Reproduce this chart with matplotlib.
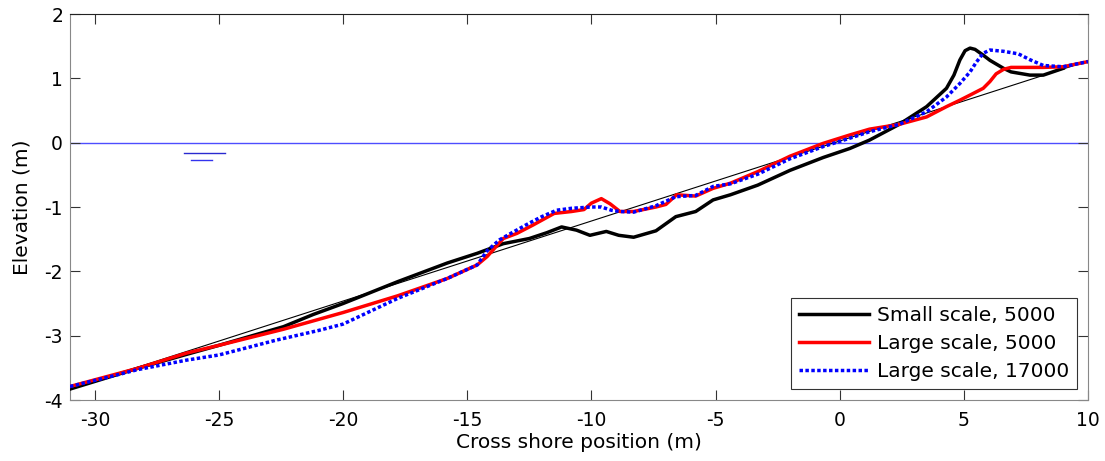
import matplotlib
matplotlib.use("Agg")
import matplotlib.pyplot as plt

plt.rcParams['font.family'] = ['DejaVu Sans']
plt.rcParams['axes.unicode_minus'] = False

# Initial (plane) profile
init_x = [-31, 10]
init_y = [-3.83, 1.27]

# Small scale, 5000
small_x = [-31, -28.3, -26.3, -25.0, -22.4, -21.2, -20.0, -17.8, -15.8, -14.6, -13.55, -12.5,
           -11.8, -11.2, -10.6, -10.06, -9.4, -8.9, -8.3, -7.4, -6.6, -5.8, -5.1, -4.4, -3.3,
           -2.0, -0.66, 0.41, 1.2, 2.4, 3.5, 4.3, 4.6, 4.84, 5.05, 5.25, 5.45, 5.78, 6.05, 6.6,
           6.9, 7.66, 8.2, 9.0]
small_y = [-3.83, -3.51, -3.29, -3.15, -2.86, -2.67, -2.50, -2.16, -1.87, -1.72, -1.57, -1.49,
           -1.40, -1.31, -1.36, -1.44, -1.38, -1.44, -1.47, -1.37, -1.15, -1.07, -0.89, -0.81, -0.66,
           -0.43, -0.23, -0.09, 0.04, 0.285, 0.56, 0.845, 1.05, 1.285, 1.43, 1.47, 1.45, 1.36, 1.28, 1.155,
           1.10, 1.05, 1.05, 1.155]

# Large scale, 5000
large5_x = [-31, -28.3, -26.3, -25.0, -22.4, -20.0, -17.8, -15.8, -14.6, -14.2, -13.55, -13.0,
            -12.35, -11.5, -10.8, -10.3, -10.0, -9.6, -9.25, -8.85, -8.3, -7.4, -7.0, -6.57, -5.8,
            -5.1, -4.4, -3.3, -2.0, -0.66, 0.41, 1.2, 2.4, 3.5, 4.3, 4.84, 5.25, 5.78, 6.05, 6.3,
            6.6, 6.9, 7.66, 8.2, 9.0, 10]
large5_y = [-3.79, -3.51, -3.27, -3.15, -2.90, -2.64, -2.38, -2.11, -1.90, -1.77, -1.49, -1.41,
            -1.28, -1.10, -1.07, -1.04, -0.94, -0.87, -0.95, -1.07, -1.07, -1.00, -0.96, -0.81, -0.83,
            -0.71, -0.63, -0.45, -0.21, -0.01, 0.12, 0.21, 0.285, 0.40, 0.56, 0.66, 0.74, 0.845, 0.95, 1.07,
            1.14, 1.17, 1.17, 1.17, 1.18, 1.26]

# Large scale, 17000
large17_x = [-31, -29.0, -28.3, -26.3, -25.0, -22.7, -21.0, -20.0, -18.9, -17.8, -15.8, -14.6,
             -14.2, -13.7, -13.2, -12.5, -12.0, -11.4, -10.8, -10.0, -9.6, -9.2, -8.85, -8.3, -7.4,
             -6.6, -5.8, -5.1, -4.4, -3.3, -2.0, -0.66, 0.41, 1.2, 2.4, 3.5, 4.3, 4.84, 5.25, 5.5,
             5.78, 6.05, 6.6, 7.2, 7.66, 8.2, 9.0, 10]
large17_y = [-3.79, -3.60, -3.53, -3.38, -3.30, -3.07, -2.92, -2.82, -2.62, -2.42, -2.11, -1.90,
             -1.68, -1.51, -1.40, -1.25, -1.15, -1.05, -1.02, -1.00, -1.00, -1.05, -1.07, -1.08, -0.98,
             -0.84, -0.82, -0.68, -0.64, -0.49, -0.25, -0.06, 0.07, 0.17, 0.285, 0.48, 0.71, 0.92, 1.10, 1.25,
             1.39, 1.44, 1.42, 1.38, 1.29, 1.20, 1.18, 1.26]

# Water level symbol
wl_top_x = [-26.41, -24.76]
wl_top_y = [-0.16, -0.16]
wl_bot_x = [-26.13, -25.28]
wl_bot_y = [-0.27, -0.27]

xticks = [-30, -25, -20, -15, -10, -5, 0, 5, 10]
yticks = [-4, -3, -2, -1, 0, 1, 2]

fig = plt.figure(figsize=(11.05, 4.61), dpi=100)
ax = fig.add_axes([70 / 1105, 1 - 400 / 461, 1018 / 1105, 386 / 461])

ax.axhline(0, color='#4d4dff', lw=1.0, zorder=1)
ax.plot(wl_top_x, wl_top_y, color='#2a2ad0', lw=1.0)
ax.plot(wl_bot_x, wl_bot_y, color='#3333ee', lw=1.0)
ax.plot(init_x, init_y, color='black', lw=0.8, zorder=2)
h1, = ax.plot(small_x, small_y, color='black', lw=2.5, label='Small scale, 5000', zorder=3)
h2, = ax.plot(large5_x, large5_y, color='red', lw=2.5, label='Large scale, 5000', zorder=4)
h3, = ax.plot(large17_x, large17_y, color='blue', lw=2.5, ls=(0, (1, 0.7)),
              label='Large scale, 17000', zorder=5)

ax.set_xlim(-31, 10)
ax.set_ylim(-4, 2)
ax.set_xticks(xticks)
ax.set_yticks(yticks)
ax.tick_params(direction='in', length=7, width=0.8, top=True, right=True,
               labelsize=13.5, colors='#333333', labelcolor='black')
ax.tick_params(axis='x', pad=8)
ax.tick_params(axis='y', pad=5)
for s in ['left', 'bottom', 'right']:
    ax.spines[s].set_color('#888888')
ax.spines['top'].set_color('#222222')

ax.set_xlabel('Cross shore position (m)', fontsize=14.5, labelpad=2)
ax.set_ylabel('Elevation (m)', fontsize=14.5, labelpad=9)

leg = ax.legend(handles=[h1, h2, h3], loc='lower right', fontsize=14.5, frameon=True,
                fancybox=False, edgecolor='black', borderaxespad=0.55,
                handlelength=3.45, handletextpad=0.4, labelspacing=0.45, borderpad=0.4)
leg.get_frame().set_linewidth(0.8)

fig.savefig('out.png', dpi=100)
